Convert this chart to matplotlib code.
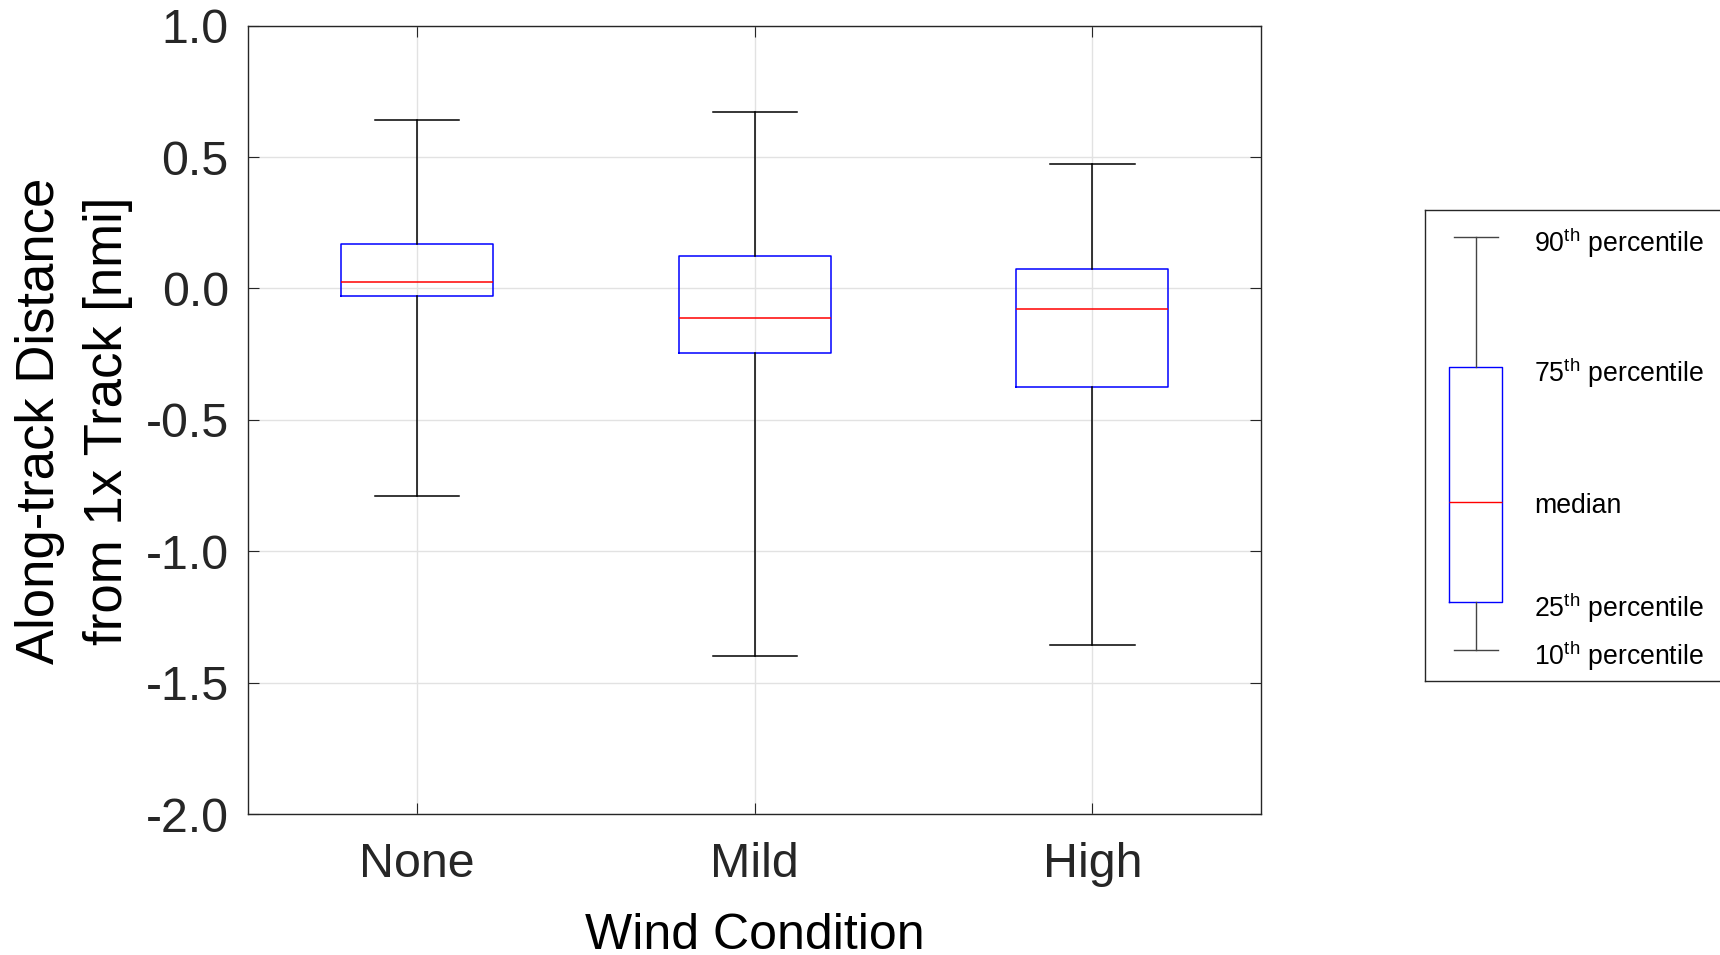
import matplotlib
matplotlib.use("Agg")
import matplotlib.pyplot as plt
from matplotlib.ticker import FormatStrFormatter

# ---- data ----
categories = ["None", "Mild", "High"]
p90 = [0.643, 0.672, 0.474]
p75 = [0.171, 0.122, 0.073]
median = [0.025, -0.111, -0.080]
p25 = [-0.030, -0.246, -0.375]
p10 = [-0.788, -1.399, -1.357]
y_ticks = [1.0, 0.5, 0.0, -0.5, -1.0, -1.5, -2.0]
x_label = "Wind Condition"
y_label_lines = ["Along-track Distance", "from 1x Track [nmi]"]

# schematic legend levels (legend-axis units) and labels
legend_levels = [0.943, 0.666, 0.379, 0.1666, 0.066]
legend_labels = [r"90$^{\mathrm{th}}$ percentile", r"75$^{\mathrm{th}}$ percentile",
                 "median", r"25$^{\mathrm{th}}$ percentile", r"10$^{\mathrm{th}}$ percentile"]

plt.rcParams["font.family"] = ["Liberation Sans", "DejaVu Sans"]
plt.rcParams["mathtext.fontset"] = "custom"
plt.rcParams["mathtext.rm"] = "Liberation Sans"
plt.rcParams["mathtext.it"] = "Liberation Sans"
plt.rcParams["axes.unicode_minus"] = False

W, H = 1720, 955
fig = plt.figure(figsize=(W / 100, H / 100), dpi=100)

L, R, T, B = 248.3, 1261.3, 25.7, 814.0
ax = fig.add_axes([L / W, 1 - B / H, (R - L) / W, (B - T) / H])

dark = "#262626"
stats = []
for i, c in enumerate(categories):
    stats.append(dict(label=c, med=median[i], q1=p25[i], q3=p75[i],
                      whislo=p10[i], whishi=p90[i], fliers=[]))
positions = list(range(1, len(categories) + 1))
ax.bxp(stats, positions=positions, widths=0.45, capwidths=0.25, showfliers=False,
       boxprops=dict(color="blue", linewidth=1.1),
       medianprops=dict(color="red", linewidth=1.1),
       whiskerprops=dict(color="black", linewidth=1.1, linestyle="-"),
       capprops=dict(color="black", linewidth=1.1),
       manage_ticks=False, zorder=3)

ax.set_xlim(0.5, len(categories) + 0.5)
ax.set_ylim(min(y_ticks), max(y_ticks))
ax.set_xticks(positions)
ax.set_xticklabels(categories)
ax.set_yticks(y_ticks)
ax.yaxis.set_major_formatter(FormatStrFormatter("%.1f"))

ax.grid(True, color="#e2e2e2", linewidth=1.0, zorder=0)
ax.set_axisbelow(True)
for s in ax.spines.values():
    s.set_color(dark)
    s.set_linewidth(1.0)
ax.tick_params(axis="both", direction="in", length=7.6, width=0.8, color=dark,
               top=True, right=True, labelcolor=dark, labelsize=34.8)
ax.tick_params(axis="y", pad=14)
ax.tick_params(axis="x", pad=20)

ax.set_xlabel(x_label, fontsize=36, color="black", va="baseline")
ax.xaxis.set_label_coords(0.5, -(949 - B) / (B - T))

# y label, two lines
for xb, line in zip([54, 122], y_label_lines):
    fig.text(xb / W, 1 - 421 / H, line, rotation=90, rotation_mode="anchor",
             ha="center", va="baseline", fontsize=38, color="black")

# ---- legend (schematic) ----
lx0, lx1, ly0, ly1 = 1424.7, 1730.0, 210.0, 680.7
lax = fig.add_axes([lx0 / W, 1 - ly1 / H, (lx1 - lx0) / W, (ly1 - ly0) / H])
lax.set_xlim(0, 1)
lax.set_ylim(0, 1)
lax.set_xticks([])
lax.set_yticks([])
for s in lax.spines.values():
    s.set_color(dark)
    s.set_linewidth(1.0)
lcx = 51 / (lx1 - lx0)
lax.bxp([dict(med=legend_levels[2], q1=legend_levels[3], q3=legend_levels[1],
              whislo=legend_levels[4], whishi=legend_levels[0], fliers=[])],
        positions=[lcx], widths=53 / (lx1 - lx0), capwidths=43.7 / (lx1 - lx0),
        showfliers=False,
        boxprops=dict(color="blue", linewidth=1.0),
        medianprops=dict(color="red", linewidth=1.0),
        whiskerprops=dict(color="#444444", linewidth=1.0),
        capprops=dict(color="#444444", linewidth=1.0),
        manage_ticks=False)
lax.set_xlim(0, 1)
lax.set_ylim(0, 1)
tx = (1534 - lx0) / (lx1 - lx0)
for lev, lab in zip(legend_levels, legend_labels):
    off = (11 if lab == "median" else 15) / (ly1 - ly0)
    lax.text(tx, lev - off, lab, ha="left", va="baseline", fontsize=19.2, color="black")

fig.savefig("out.png", dpi=100)
